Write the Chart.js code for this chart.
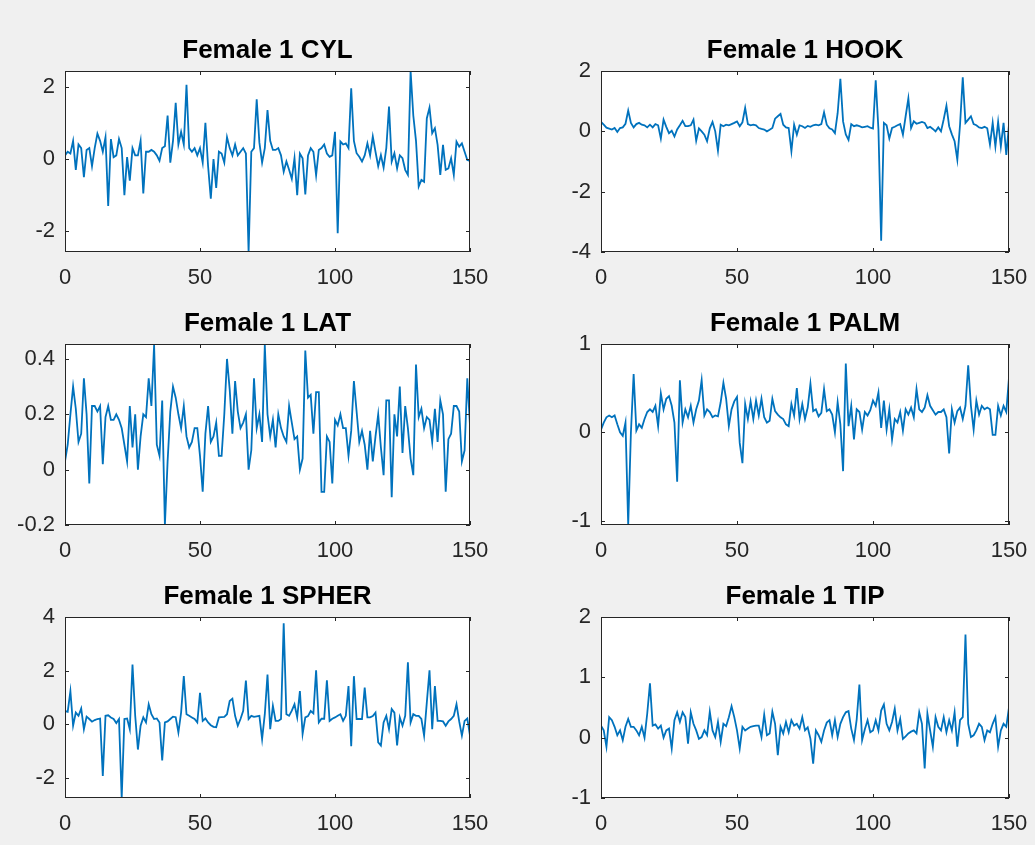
<!DOCTYPE html>
<html lang="en">
<head>
  <meta charset="UTF-8">
  <title>Female 1</title>
  <script src="https://cdn.jsdelivr.net/npm/chart.js@4"></script>
  <style>
    html, body { margin: 0; padding: 0; overflow: hidden; }
    body { width: 1035px; height: 845px; background: #f0f0f0; position: relative; }
    canvas { position: absolute; }
  </style>
</head>
<body>
  <script>
    // Sample index runs 0..150 along x for every series
    const xTicks = [0, 50, 100, 150];

    const cylValues = [
      0.1, 0.2, 0.15, 0.5, -0.3, 0.4, 0.3, -0.5, 0.25, 0.3,
      -0.2, 0.3, 0.7, 0.5, 0.2, 0.6, -1.3, 0.55, 0.05, 0.1,
      0.55, 0.3, -1.0, 0.05, -0.6, 0.3, 0.1, 0.1, 0.5, -0.95,
      0.2, 0.2, 0.25, 0.2, 0.1, -0.05, 0.3, 0.35, 1.2, -0.1,
      0.5, 1.55, 0.4, 0.75, 0.4, 2.05, 0.3, 0.2, 0.3, 0.1,
      0.3, -0.1, 1.0, -0.2, -1.1, 0.0, -0.8, 0.2, 0.15, -0.1,
      0.6, 0.3, 0.1, 0.4, 0.1, 0.2, 0.3, 0.15, -2.57, 0.2,
      0.3, 1.65, 0.45, -0.1, 0.3, 1.35, 0.5, 0.25, 0.25, 0.3,
      0.1, -0.35, -0.07, -0.3, -0.55, 0.02, -1.0, 0.15, 0.02, -0.98,
      0.1, 0.3, 0.2, -0.45, 0.25, 0.3, 0.4, 0.15, 0.06, 0.1,
      0.75, -2.05, 0.48, 0.4, 0.43, 0.3, 1.95, 0.5, 0.16, 0.06,
      -0.07, 0.1, 0.43, 0.1, 0.62, 0.2, -0.2, 0.11, -0.24, 0.3,
      1.45, -0.07, 0.16, -0.26, 0.1, 0.02, -0.3, -0.44, 2.43, 1.2,
      0.5, -0.76, -0.58, -0.63, 1.12, 1.42, 0.71, 0.85, 0.39, -0.44,
      0.39, -0.3, -0.26, 0.02, -0.44, 0.48, 0.34, 0.43, 0.2, -0.03,
      -0.05
    ];
    const cylTicks = [-2, 0, 2];
    const cylRange = [-2.57, 2.43];

    const hookValues = [
      0.31, 0.22, 0.12, 0.09, 0.06, 0.11, -0.02, 0.11, 0.13, 0.25,
      0.69, 0.28, 0.13, 0.24, 0.28, 0.22, 0.2, 0.13, 0.22, 0.13,
      0.24, 0.2, -0.24, 0.39, 0.15, -0.06, 0.02, -0.17, 0.06, 0.2,
      0.35, 0.17, 0.17, 0.2, 0.39, -0.31, 0.1, 0.0, -0.11, -0.33,
      0.1, 0.31, 0.0, -0.64, 0.22, 0.17, 0.22, 0.2, 0.24, 0.28,
      0.33, 0.17, 0.3, 0.78, 0.24, 0.2, 0.22, 0.2, 0.11, 0.08,
      0.06, 0.0, 0.05, 0.11, 0.42, 0.5, 0.58, 0.22, 0.13, 0.11,
      -0.66, 0.22, -0.11, 0.2, 0.17, 0.11, 0.18, 0.15, 0.2, 0.22,
      0.2, 0.24, 0.63, 0.22, 0.1, 0.06, -0.06, 0.6, 1.74, 0.33,
      -0.1, -0.28, 0.24, 0.17, 0.2, 0.17, 0.13, 0.15, 0.17, 0.12,
      0.09, 1.69, 0.06, -3.63, 0.28, 0.2, -0.24, 0.11, 0.15, 0.2,
      0.24, -0.11, 0.5, 1.09, 0.11, 0.33, 0.25, 0.28, 0.31, 0.28,
      0.11, 0.15, 0.08, 0.0, 0.13, 0.0, 0.4, 0.85, 0.17, -0.1,
      -0.33, -0.94, 0.22, 1.79, 0.28, 0.39, 0.5, 0.24, 0.2, 0.13,
      0.11, 0.15, 0.1, -0.44, 0.28, -0.5, 0.31, -0.5, 0.28, -0.78,
      0.22
    ];
    const hookTicks = [-4, -2, 0, 2];
    const hookRange = [-4, 2];

    const latValues = [
      0.03, 0.09, 0.2, 0.3, 0.22, 0.1, 0.13, 0.33, 0.2, -0.05,
      0.23, 0.23, 0.21, 0.23, 0.02, 0.19, 0.23, 0.18, 0.18, 0.2,
      0.18, 0.15, 0.09, 0.03, 0.23, 0.08, 0.2, 0.0, 0.12, 0.2,
      0.19, 0.33, 0.23, 0.45, 0.09, 0.05, 0.25, -0.2, 0.03, 0.21,
      0.3, 0.26, 0.2, 0.15, 0.23, 0.12, 0.08, 0.1, 0.15, 0.15,
      0.05, -0.08, 0.13, 0.23, 0.1, 0.12, 0.17, 0.05, 0.05, 0.2,
      0.4, 0.29, 0.13, 0.32, 0.21, 0.15, 0.17, 0.2, 0.0, 0.07,
      0.33, 0.15, 0.2, 0.1, 0.45, 0.2, 0.12, 0.18, 0.08, 0.2,
      0.15, 0.12, 0.1, 0.23, 0.17, 0.11, 0.12, 0.0, 0.04, 0.43,
      0.26, 0.27, 0.13, 0.28, 0.28, -0.08, -0.08, 0.12, 0.1, -0.05,
      0.18, 0.16, 0.2, 0.15, 0.15, 0.05, 0.14, 0.32, 0.21, 0.1,
      0.14, 0.09, 0.0, 0.14, 0.03, 0.12, 0.2, 0.08, -0.02, 0.25,
      0.25, -0.1, 0.2, 0.12, 0.3, 0.06, 0.23, 0.15, 0.04, -0.02,
      0.38, 0.19, 0.22, 0.15, 0.19, 0.18, 0.1, 0.22, 0.1, 0.25,
      0.2, -0.08, 0.11, 0.13, 0.23, 0.23, 0.21, 0.03, 0.07, 0.33,
      0.16
    ];
    const latTicks = [-0.2, 0, 0.2, 0.4];
    const latRange = [-0.2, 0.454];

    const palmValues = [
      0.03, 0.11, 0.17, 0.19, 0.17, 0.19, 0.09, 0.0, -0.04, 0.11,
      -1.05, 0.0, 0.66, 0.02, 0.09, 0.05, 0.15, 0.23, 0.26, 0.23,
      0.3, 0.07, 0.44, 0.26, 0.38, 0.41, 0.3, 0.11, -0.56, 0.59,
      0.11, 0.26, 0.17, 0.3, 0.11, 0.26, 0.36, 0.59, 0.19, 0.26,
      0.23, 0.17, 0.19, 0.18, 0.34, 0.56, 0.38, 0.07, 0.26, 0.35,
      0.4, -0.12, -0.35, 0.32, 0.15, 0.35, 0.15, 0.36, 0.19, 0.38,
      0.17, 0.11, 0.13, 0.38, 0.24, 0.2, 0.17, 0.15, 0.09, 0.07,
      0.32, 0.19, 0.5, 0.15, 0.32, 0.15, 0.28, 0.55, 0.24, 0.26,
      0.18, 0.22, 0.49, 0.24, 0.26, 0.2, 0.0, 0.34, 0.09, -0.44,
      0.78, 0.07, 0.3, -0.08, 0.26, 0.23, 0.03, 0.23, 0.19, 0.25,
      0.36, 0.3, 0.45, 0.05, 0.36, 0.03, 0.26, -0.08, 0.15, 0.11,
      0.23, 0.02, 0.26, 0.2, 0.28, 0.17, 0.49, 0.26, 0.23, 0.28,
      0.42, 0.3, 0.25, 0.2, 0.23, 0.23, 0.26, 0.17, -0.24, 0.26,
      0.11, 0.24, 0.28, 0.15, 0.3, 0.76, 0.3, 0.03, 0.36, 0.2,
      0.3, 0.26, 0.28, 0.26, -0.03, -0.03, 0.3, 0.19, 0.3, 0.23,
      0.62
    ];
    const palmTicks = [-1, 0, 1];
    const palmRange = [-1.05, 1];

    const spherValues = [
      0.49, 0.46, 1.23, -0.06, 0.43, 0.31, 0.58, -0.19, 0.28, 0.19,
      0.09, 0.15, 0.19, 0.21, -1.94, 0.31, 0.33, 0.25, 0.19, 0.04,
      0.19, -2.76, 0.19, 0.21, -0.19, 2.22, 0.31, -0.95, -0.06, 0.25,
      0.06, 0.74, 0.37, 0.19, 0.21, 0.06, -1.36, 0.06, 0.1, 0.19,
      0.28, 0.26, -0.31, 0.43, 1.79, 0.37, 0.31, 0.25, 0.19, 0.06,
      1.17, 0.12, 0.21, 0.06, -0.04, -0.1, -0.12, 0.25, 0.26, 0.27,
      0.37, 0.86, 0.95, 0.31, -0.06, 0.19, 0.5, 1.63, 0.19, 0.31,
      0.27, 0.29, 0.31, -0.56, 0.37, 1.85, -0.19, 0.68, 0.12, 0.12,
      0.19, 3.77, 0.37, 0.31, 0.5, 0.74, 0.25, 1.23, -0.37, 0.25,
      0.3, 0.49, 0.4, 2.01, 0.06, 0.2, 0.2, 1.64, 0.12, 0.2,
      0.25, 0.31, 0.37, 0.12, 0.31, 1.42, -0.83, 1.79, 0.19, 0.19,
      0.19, 1.36, 0.25, 0.25, 0.3, 0.43, -0.68, -0.8, 0.06, 0.31,
      -0.19, 0.56, 0.43, -0.8, 0.25, -0.06, 0.31, 2.31, 0.06, 0.37,
      0.31, 0.31, 0.19, -0.43, 0.8, 2.01, -0.19, 1.42, 0.12, 0.12,
      0.1, -0.06, 0.1, 0.19, 0.31, 0.74, 0.1, -0.43, 0.12, 0.21,
      -0.43
    ];
    const spherTicks = [-2, 0, 2, 4];
    const spherRange = [-2.76, 4];

    const tipValues = [
      0.2, 0.12, -0.15, 0.34, 0.29, 0.18, 0.04, 0.12, -0.04, 0.18,
      0.31, 0.18, 0.18, 0.12, 0.04, 0.18, 0.0, 0.4, 0.9, 0.2,
      0.22, 0.15, 0.2, 0.0, 0.12, 0.15, -0.18, 0.29, 0.42, 0.26,
      0.42, 0.34, -0.1, 0.42, 0.23, 0.12, -0.02, 0.01, 0.12, 0.04,
      0.43, 0.12, 0.01, 0.26, -0.07, 0.23, 0.19, 0.34, 0.52, 0.34,
      0.12, -0.18, 0.18, 0.12, 0.15, 0.18, 0.19, 0.2, 0.2, 0.01,
      0.38, 0.04, 0.07, 0.43, 0.23, -0.29, 0.18, 0.07, 0.26, 0.09,
      0.29, 0.2, 0.23, 0.15, 0.34, 0.12, 0.17, -0.02, -0.43, 0.12,
      0.04, -0.07, 0.12, 0.25, 0.29, 0.04, 0.29, 0.01, 0.23, 0.34,
      0.42, 0.44, 0.15, -0.04, 0.3, 0.88, -0.04, 0.14, 0.29, 0.09,
      0.12, 0.29, 0.12, 0.45, 0.55, 0.23, 0.12, 0.26, 0.48, 0.12,
      0.31, -0.02, 0.02, 0.07, 0.1, 0.12, 0.07, 0.42, 0.23, -0.51,
      0.4, 0.12, -0.15, 0.34, 0.18, 0.12, 0.34, 0.09, 0.29, 0.12,
      0.42, -0.15, 0.29, 0.34, 1.71, 0.23, 0.01, 0.04, 0.12, 0.23,
      0.18, -0.04, 0.12, 0.09, 0.23, 0.34, -0.15, 0.12, 0.23, 0.18,
      0.5
    ];
    const tipTicks = [-1, 0, 1, 2];
    const tipRange = [-1, 2];

    // Layout: each subplot gets its own canvas, plot box placed by left/top/width
    const SIDE = 60;    // room for y tick labels (mirrored on the right so the title centres)
    const HEAD = 45;    // title band
    const FOOT = 40;    // x tick labels
    const PLOT_H = 181;

    const panels = [
      { title: 'Female 1 CYL',   values: cylValues,   yTicks: cylTicks,   yRange: cylRange,   left: 65,  top: 71,  width: 405 },
      { title: 'Female 1 HOOK',  values: hookValues,  yTicks: hookTicks,  yRange: hookRange,  left: 601, top: 71,  width: 408 },
      { title: 'Female 1 LAT',   values: latValues,   yTicks: latTicks,   yRange: latRange,   left: 65,  top: 344, width: 405 },
      { title: 'Female 1 PALM',  values: palmValues,  yTicks: palmTicks,  yRange: palmRange,  left: 601, top: 344, width: 408 },
      { title: 'Female 1 SPHER', values: spherValues, yTicks: spherTicks, yRange: spherRange, left: 65,  top: 617, width: 405 },
      { title: 'Female 1 TIP',   values: tipValues,   yTicks: tipTicks,   yRange: tipRange,   left: 601, top: 617, width: 408 },
    ];

    const AXIS_COLOR = '#262626';
    const LINE_COLOR = '#0072bd';
    const FONT = '"Liberation Sans", Arial, Helvetica, sans-serif';

    Chart.defaults.font.family = FONT;
    Chart.defaults.color = AXIS_COLOR;

    /**
     * White plot area, black box and inward ticks on all four sides
     */
    const axesBox = {
      id: 'axesBox',
      beforeDraw(chart) {
        const { ctx, chartArea: a } = chart;
        ctx.save();
        ctx.fillStyle = '#ffffff';
        ctx.fillRect(a.left, a.top, a.width, a.height);
        ctx.restore();
      },
      afterDatasetsDraw(chart) {
        const { ctx, chartArea: a, scales } = chart;
        const len = 4;
        ctx.save();
        ctx.strokeStyle = AXIS_COLOR;
        ctx.lineWidth = 1;
        ctx.beginPath();
        scales.x.ticks.forEach(t => {
          const px = Math.round(scales.x.getPixelForValue(t.value)) + 0.5;
          ctx.moveTo(px, a.bottom);
          ctx.lineTo(px, a.bottom - len);
          ctx.moveTo(px, a.top);
          ctx.lineTo(px, a.top + len);
        });
        scales.y.ticks.forEach(t => {
          const py = Math.round(scales.y.getPixelForValue(t.value)) + 0.5;
          ctx.moveTo(a.left, py);
          ctx.lineTo(a.left + len, py);
          ctx.moveTo(a.right, py);
          ctx.lineTo(a.right - len, py);
        });
        ctx.stroke();
        ctx.strokeRect(a.left + 0.5, a.top + 0.5, a.width - 1, a.height - 1);
        ctx.restore();
      }
    };

    function makeChart(p) {
      const canvas = document.createElement('canvas');
      canvas.width = p.width + 2 * SIDE;
      canvas.height = PLOT_H + HEAD + FOOT;
      canvas.style.left = (p.left - SIDE) + 'px';
      canvas.style.top = (p.top - HEAD) + 'px';
      document.body.appendChild(canvas);

      const tickFont = { size: 22 };

      return new Chart(canvas, {
        type: 'line',
        data: {
          datasets: [{
            data: p.values.map((v, i) => ({ x: i, y: v })),
            borderColor: LINE_COLOR,
            borderWidth: 1.8,
            pointRadius: 0,
            tension: 0,
            fill: false,
          }]
        },
        options: {
          responsive: false,
          animation: false,
          layout: { padding: 0 },
          plugins: {
            legend: { display: false },
            tooltip: { enabled: false },
            title: {
              display: true,
              text: p.title,
              color: '#000000',
              font: { size: 26, weight: 'bold', lineHeight: 1 },
              padding: { top: 12, bottom: 7 },
            },
          },
          scales: {
            x: {
              type: 'linear',
              min: 0,
              max: 150,
              grid: { display: false, drawTicks: false },
              border: { display: false },
              ticks: { font: tickFont, padding: 13, maxRotation: 0, autoSkip: false },
              afterBuildTicks: s => { s.ticks = xTicks.map(v => ({ value: v })); },
              afterFit: s => { s.height = FOOT; },
            },
            y: {
              type: 'linear',
              position: 'left',
              min: p.yRange[0],
              max: p.yRange[1],
              grid: { display: false, drawTicks: false },
              border: { display: false },
              ticks: { font: tickFont, padding: 10, autoSkip: false, callback: v => String(v) },
              afterBuildTicks: s => { s.ticks = p.yTicks.map(v => ({ value: v })); },
              afterFit: s => { s.width = SIDE; },
            },
            // empty right-hand axis, keeps the plot centred under its title
            yRight: {
              type: 'linear',
              position: 'right',
              grid: { display: false, drawTicks: false },
              border: { display: false },
              ticks: { display: false },
              afterFit: s => { s.width = SIDE; },
            },
          },
        },
        plugins: [axesBox],
      });
    }

    panels.forEach(makeChart);
  </script>
</body>
</html>
